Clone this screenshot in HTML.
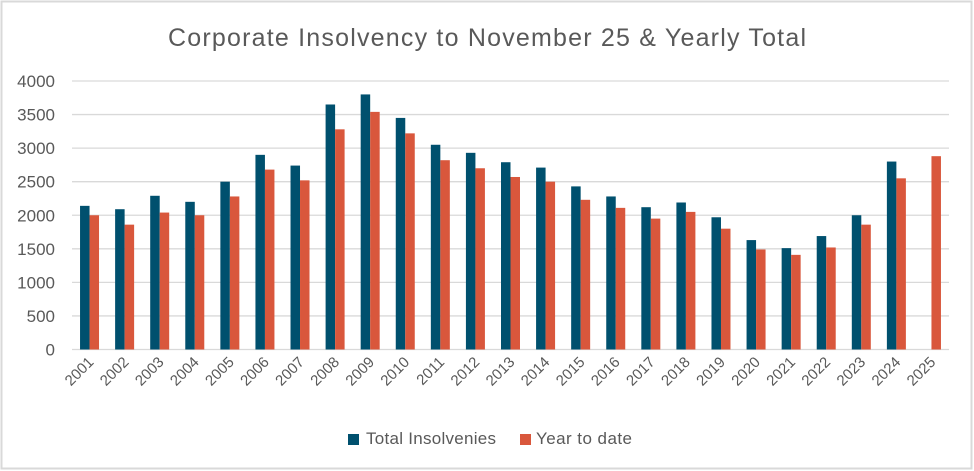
<!DOCTYPE html>
<html><head><meta charset="utf-8"><style>
html,body{margin:0;padding:0;background:#fff}
svg{display:block}
text{font-family:"Liberation Sans",sans-serif;fill:#595959}
</style></head><body>
<svg width="974" height="471" viewBox="0 0 974 471" xmlns="http://www.w3.org/2000/svg">
<rect x="1.5" y="1.5" width="970" height="467" fill="#fff" stroke="#d9d9d9" stroke-width="2"/>
<text x="168" y="46" font-size="25" textLength="638" lengthAdjust="spacing">Corporate Insolvency to November 25 &amp; Yearly Total</text>
<g id="grid" stroke="#d9d9d9" stroke-width="1.3"></g>
<g id="yl" font-size="17" text-anchor="end"></g>
<g id="bars"></g>
<g id="xl" font-size="15" text-anchor="end"></g>
<rect x="348" y="434" width="11" height="11" fill="#00506e"/>
<text x="366" y="444" font-size="17" textLength="130" lengthAdjust="spacing">Total Insolvenies</text>
<rect x="520" y="434" width="11" height="11" fill="#d9573c"/>
<text x="536" y="444" font-size="17" textLength="96" lengthAdjust="spacing">Year to date</text>
</svg>
<script>
var ns="http://www.w3.org/2000/svg";
function el(p,t,a,txt){var e=document.createElementNS(ns,t);for(var k in a)e.setAttribute(k,a[k]);if(txt!==undefined)e.textContent=txt;document.getElementById(p).appendChild(e);}
var y0=349.5,y4=81,L=72,R=949,cw=(R-L)/25;
function Y(v){return y0-(y0-y4)*v/4000;}
for(var i=0;i<=8;i++){var y=Y(i*500);el("grid","line",{x1:L,x2:R,y1:y,y2:y});el("yl","text",{x:55,y:y+6},String(i*500));}
var b=[2140,2090,2290,2200,2500,2900,2740,3650,3800,3450,3050,2930,2790,2710,2430,2280,2120,2190,1970,1630,1510,1690,2000,2800,null];
var r=[2000,1860,2040,2000,2280,2680,2520,3280,3540,3220,2820,2700,2570,2500,2230,2110,1950,2050,1800,1490,1410,1520,1860,2550,2880];
for(var i=0;i<25;i++){var c=L+(i+0.5)*cw;
if(b[i]!==null)el("bars","rect",{x:c-9.5,y:Y(b[i]),width:9.5,height:y0-Y(b[i]),fill:"#00506e"});
el("bars","rect",{x:c,y:Y(r[i]),width:9.5,height:y0-Y(r[i]),fill:"#d9573c"});
el("xl","text",{x:c+5,y:363,transform:"rotate(-45 "+(c+5)+" 363)"},String(2001+i));}
</script>
</body></html>
